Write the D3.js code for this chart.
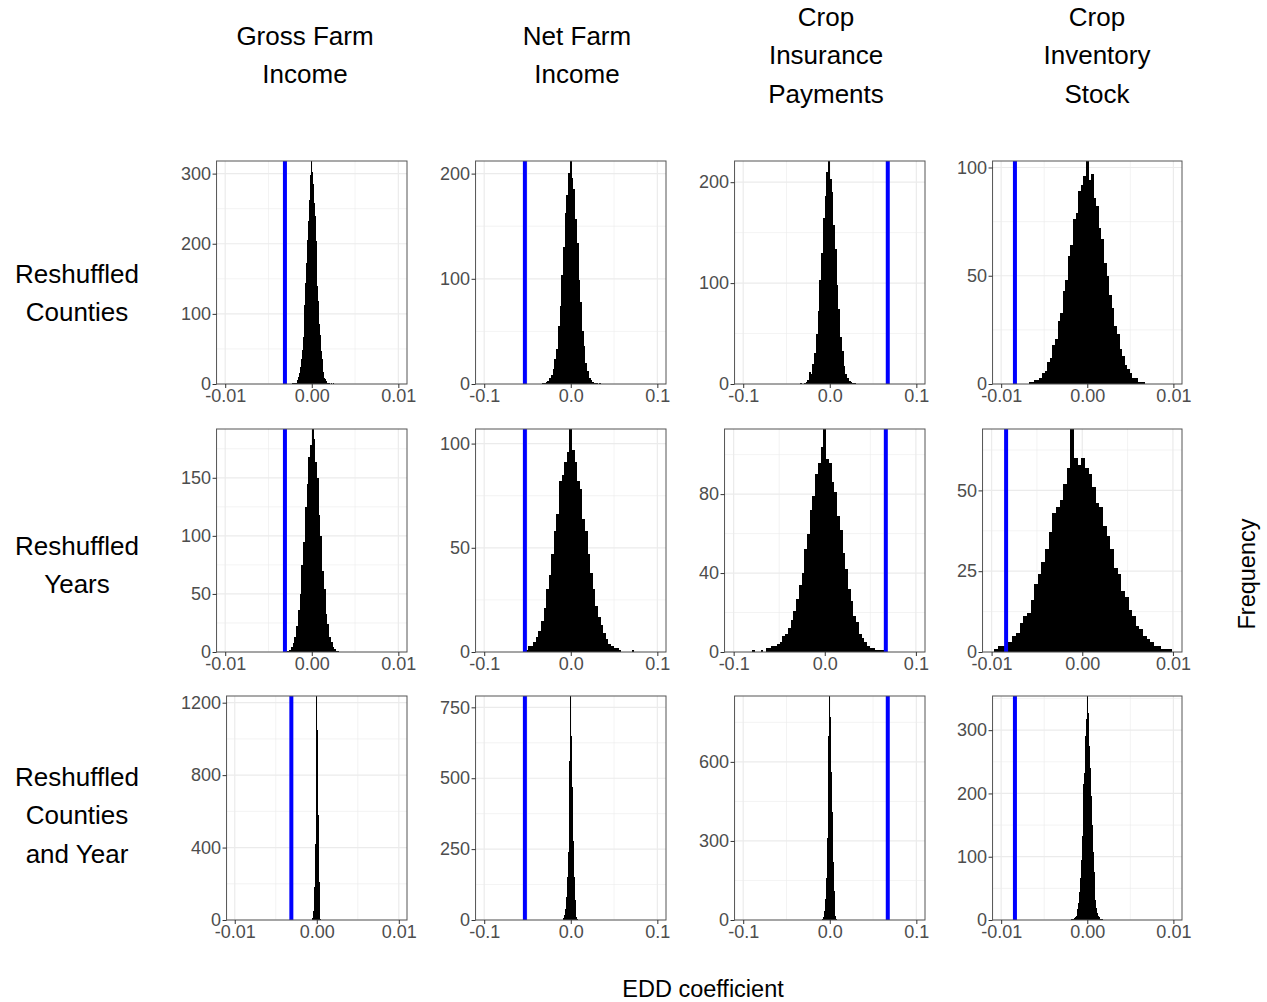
<!DOCTYPE html>
<html>
<head>
<meta charset="utf-8">
<script src="https://cdn.jsdelivr.net/npm/d3@7"></script>
<style>
  body { margin: 0; background: #fff; }
</style>
</head>
<body>
<svg width="1267" height="1002"></svg>
<script>
/*global d3 */

// ---- data ----
var colTitles = [["Gross Farm", "Income"], ["Net Farm", "Income"], ["Crop", "Insurance", "Payments"], ["Crop", "Inventory", "Stock"]];
var rowTitles = [["Reshuffled", "Counties"], ["Reshuffled", "Years"], ["Reshuffled", "Counties", "and Year"]];

// observed EDD coefficient for each outcome (blue line)
var eddCoef = [-0.0031, -0.053, 0.067, -0.0084];

var xTickValues = [[-0.01, 0, 0.01], [-0.1, 0, 0.1], [-0.1, 0, 0.1], [-0.01, 0, 0.01]];
var xTickLabels = [["-0.01", "0.00", "0.01"], ["-0.1", "0.0", "0.1"], ["-0.1", "0.0", "0.1"], ["-0.01", "0.00", "0.01"]];

var yTickValues = [
  [[0, 100, 200, 300], [0, 100, 200], [0, 100, 200], [0, 50, 100]],
  [[0, 50, 100, 150], [0, 50, 100], [0, 40, 80], [0, 25, 50]],
  [[0, 400, 800, 1200], [0, 250, 500, 750], [0, 300, 600], [0, 100, 200, 300]]
];

// histogram bins: start of first bin and bin width per panel
var binStart = [
  [-0.00225, -0.035, -0.034, -0.00705],
  [-0.003, -0.0525, -0.0795, -0.0097],
  [-0.00055, -0.0095, -0.0095, -0.00185]
];
var binWidth = [
  [0.0001, 0.002, 0.002, 0.0003],
  [0.0002, 0.003, 0.003, 0.0004],
  [0.0001, 0.001, 0.001, 0.0001]
];

// counts, reshuffled counties
var gfiCounties = [1,1,1,2,2,4,6,10,16,24,35,49,67,90,113,144,172,206,232,262,280,298,318,302,285,258,240,204,178,140,118,86,70,47,36,22,17,9,7,4,2,2,1,1,0,1,0,1];
var nfiCounties = [0,1,1,2,3,6,9,14,24,33,55,74,104,130,163,180,201,212,196,185,157,134,99,78,50,36,20,12,6,4,2,1,1,0,1];
var cipCounties = [1,0,1,2,4,12,10,20,31,50,72,103,130,165,186,210,221,203,190,158,134,98,74,47,33,18,10,6,3,2,1,1];
var cisCounties = [0,1,1,2,2,3,5,6,10,12,18,21,29,33,43,48,59,64,76,79,89,92,96,103,94,97,86,82,72,67,56,50,41,35,27,23,16,13,9,7,5,3,3,1,1,1,0];

// counts, reshuffled years
var gfiYears = [1,1,2,4,8,13,22,36,50,75,95,125,145,168,178,192,183,164,150,118,100,70,54,33,24,13,9,4,3,1,1];
var nfiYears = [1,3,3,5,7,10,15,21,30,37,47,58,66,82,85,91,96,107,97,91,82,78,64,58,47,38,30,22,17,13,9,6,4,3,2,2,1,0,0,0,0,1,0];
var cipYears = [1,0,0,1,0,2,2,3,3,4,5,8,9,12,16,21,27,34,40,52,60,72,79,90,96,104,113,98,96,86,81,69,62,50,42,32,26,18,15,9,7,5,3,2,2,1,1,1];
var cisYears = [1,2,2,3,3,5,6,9,11,12,16,21,24,28,32,37,43,45,47,52,57,69,60,58,60,57,55,51,46,45,39,36,32,26,24,19,17,13,11,8,7,5,4,3,2,2,1,1,1];

// counts, reshuffled counties and year
var gfiBoth = [10,50,182,420,763,1237,1050,582,210,35,8];
var nfiBoth = [2,8,18,40,80,150,240,380,560,790,650,470,280,150,70,28,10,3];
var cipBoth = [2,5,12,35,80,160,310,520,700,850,770,560,410,220,110,45,14,4];
var cisBoth = [1,1,2,3,4,7,10,17,27,44,66,95,132,170,215,232,290,318,354,327,310,275,240,196,150,108,76,50,31,19,11,6,4,2,1,1,1];

var counts = [
  [gfiCounties, nfiCounties, cipCounties, cisCounties],
  [gfiYears, nfiYears, cipYears, cisYears],
  [gfiBoth, nfiBoth, cipBoth, cisBoth]
];

// ---- layout ----
var svg = d3.select("svg"),
  font = "'Liberation Sans', Arial, Helvetica, sans-serif",
  rowTop = [161, 429, 696],
  rowBottom = [384, 652, 920],
  colLabelLeft = [181, 440, 699, 957],
  colRight = [407, 666, 925, 1182],
  colTitleX = [305, 577, 826, 1097],
  rowTitleY = [293, 565, 815],
  tickLen = 4,
  tickGap = 1.5;

svg.append("rect").attr("width", 1267).attr("height", 1002).attr("fill", "#fff");

// width of y tick labels, to place the panel like ggplot does
var measure = svg.append("text")
  .attr("font-family", font)
  .attr("font-size", 18);
function labelWidth(s) {
  measure.text(s);
  return measure.node().getComputedTextLength();
}

function midpoints(ticks, lo, hi) {
  var step = ticks[1] - ticks[0], out = [];
  for (var v = ticks[0] - step / 2; v <= hi; v += step) {
    if (v >= lo) out.push(v);
  }
  return out;
}

counts.forEach(function(rowData, r) {
  rowData.forEach(function(data, c) {
    var yt = yTickValues[r][c],
      maxW = d3.max(yt, function(d) { return labelWidth(String(d)); }),
      left = colLabelLeft[c] + maxW + tickGap + tickLen,
      right = colRight[c],
      top = rowTop[r],
      bottom = rowBottom[r];

    var xt = xTickValues[c],
      ext = d3.extent(xt),
      pad = (ext[1] - ext[0]) * 0.05;

    var x = d3.scaleLinear()
      .domain([ext[0] - pad, ext[1] + pad])
      .range([left, right]);

    var y = d3.scaleLinear()
      .domain([0, d3.max(data)])
      .range([bottom, top]);

    var bins = data.map(function(n, i) {
      var x0 = binStart[r][c] + i * binWidth[r][c];
      return { x0: x0, x1: x0 + binWidth[r][c], n: n };
    });

    var g = svg.append("g");

    g.append("rect")
      .attr("x", left)
      .attr("y", top)
      .attr("width", right - left)
      .attr("height", bottom - top)
      .attr("fill", "#fff");

    // minor grid
    g.append("g").selectAll("line")
      .data(midpoints(xt, x.domain()[0], x.domain()[1]))
      .enter().append("line")
      .attr("x1", x).attr("x2", x)
      .attr("y1", top).attr("y2", bottom)
      .attr("stroke", "#ebebeb")
      .attr("stroke-width", 0.6);

    g.append("g").selectAll("line")
      .data(midpoints(yt, 0, y.domain()[1]))
      .enter().append("line")
      .attr("y1", y).attr("y2", y)
      .attr("x1", left).attr("x2", right)
      .attr("stroke", "#ebebeb")
      .attr("stroke-width", 0.6);

    // major grid
    g.append("g").selectAll("line")
      .data(xt)
      .enter().append("line")
      .attr("x1", x).attr("x2", x)
      .attr("y1", top).attr("y2", bottom)
      .attr("stroke", "#ebebeb")
      .attr("stroke-width", 1.2);

    g.append("g").selectAll("line")
      .data(yt)
      .enter().append("line")
      .attr("y1", y).attr("y2", y)
      .attr("x1", left).attr("x2", right)
      .attr("stroke", "#ebebeb")
      .attr("stroke-width", 1.2);

    // histogram
    g.append("g")
      .attr("shape-rendering", "crispEdges")
      .selectAll("rect")
      .data(bins.filter(function(d) { return d.n > 0; }))
      .enter().append("rect")
      .attr("x", function(d) { return x(d.x0); })
      .attr("width", function(d) { return x(d.x1) - x(d.x0); })
      .attr("y", function(d) { return y(d.n); })
      .attr("height", function(d) { return y(0) - y(d.n); })
      .attr("fill", "#000");

    // observed coefficient
    g.append("line")
      .attr("x1", x(eddCoef[c])).attr("x2", x(eddCoef[c]))
      .attr("y1", top).attr("y2", bottom)
      .attr("stroke", "#0000ff")
      .attr("stroke-width", 4);

    // border
    g.append("rect")
      .attr("x", left)
      .attr("y", top)
      .attr("width", right - left)
      .attr("height", bottom - top)
      .attr("fill", "none")
      .attr("stroke", "#555")
      .attr("stroke-width", 1);

    // axes
    var yAxis = g.append("g")
      .attr("transform", "translate(" + left + ",0)")
      .call(d3.axisLeft(y).tickValues(yt).tickSize(tickLen).tickPadding(tickGap).tickFormat(d3.format("d")));

    var xAxis = g.append("g")
      .attr("transform", "translate(0," + bottom + ")")
      .call(d3.axisBottom(x).tickValues(xt).tickSize(tickLen).tickPadding(1)
        .tickFormat(function(d, i) { return xTickLabels[c][i]; }));

    [yAxis, xAxis].forEach(function(ax) {
      ax.attr("font-family", font).attr("font-size", 18);
      ax.select(".domain").remove();
      ax.selectAll(".tick line").attr("stroke", "#333");
      ax.selectAll(".tick text").attr("fill", "#4d4d4d");
    });
  });
});

measure.remove();

// column titles
colTitles.forEach(function(lines, c) {
  svg.append("g").selectAll("text")
    .data(lines)
    .enter().append("text")
    .attr("x", colTitleX[c])
    .attr("y", function(d, i) { return 55 + (i - (lines.length - 1) / 2) * 38.5 + 9; })
    .attr("text-anchor", "middle")
    .attr("font-family", font)
    .attr("font-size", 26)
    .attr("fill", "#000")
    .text(function(d) { return d; });
});

// row titles
rowTitles.forEach(function(lines, r) {
  svg.append("g").selectAll("text")
    .data(lines)
    .enter().append("text")
    .attr("x", 77)
    .attr("y", function(d, i) { return rowTitleY[r] + (i - (lines.length - 1) / 2) * 38.5 + 9; })
    .attr("text-anchor", "middle")
    .attr("font-family", font)
    .attr("font-size", 26)
    .attr("fill", "#000")
    .text(function(d) { return d; });
});

svg.append("text")
  .attr("x", 703)
  .attr("y", 997)
  .attr("text-anchor", "middle")
  .attr("font-family", font)
  .attr("font-size", 23.5)
  .attr("fill", "#000")
  .text("EDD coefficient");

svg.append("text")
  .attr("transform", "translate(1255,574)rotate(-90)")
  .attr("text-anchor", "middle")
  .attr("font-family", font)
  .attr("font-size", 23.5)
  .attr("fill", "#000")
  .text("Frequency");
</script>
</body>
</html>
